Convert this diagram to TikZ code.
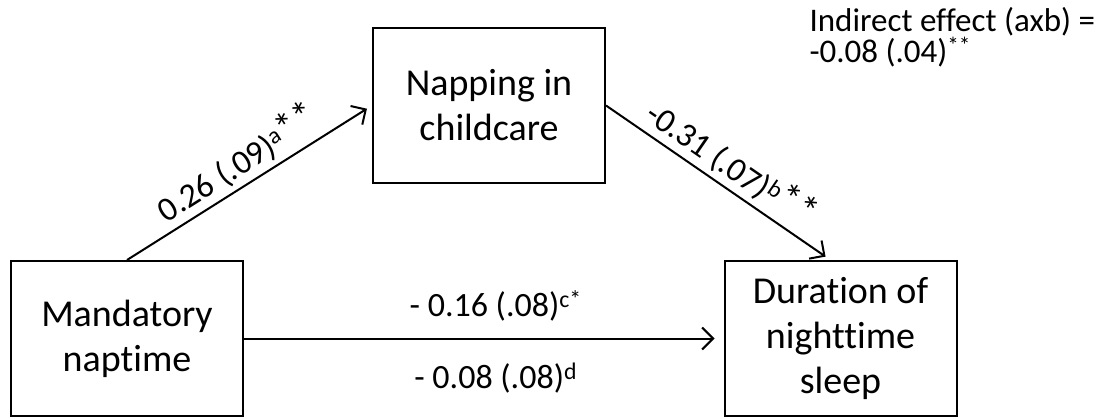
\documentclass[tikz,border=0pt]{standalone}
\usepackage{fontspec}
\setmainfont{Carlito}[Ligatures=NoCommon]
\usetikzlibrary{arrows.meta,positioning}

\newcommand{\sig}[1]{\raisebox{.12em}{\fontsize{40}{40}\selectfont#1}}

\begin{document}
\begin{tikzpicture}[
    x=1pt, y=-1pt,
    var/.style={draw, line width=2pt, align=center, minimum width=232pt, minimum height=155pt, font=\fontsize{38}{45}\selectfont},
    coef/.style={font=\fontsize{34}{40}\selectfont, midway, xshift=12pt},
    slopecoef/.style={font=\fontsize{34}{40}\selectfont, sloped, midway, above=1pt},
    path/.style={-{Straight Barb[length=11pt,width=22pt,line width=2pt]}, line width=2pt}
]
\useasboundingbox (0,0) rectangle (1107,418);
\node[var] (mandatory) at (127,338.5) {Mandatory\\naptime};
\node[var] (napping) at (489,105.5) {Napping in\\childcare};
\node[var] (duration) at (840.5,338.5) {Duration of\\nighttime\\sleep};
\node[anchor=north west, align=left, font=\fontsize{33}{30}\selectfont] (indirect) at (806,4) {Indirect effect (axb) =\\-0.08 (.04)\textsuperscript{**}};
\draw[path, shorten >=6pt] (mandatory.north) -- node[slopecoef] {0.26 (.09)\textsuperscript{a}\sig{**}} (napping.west);
\draw[path, shorten >=6pt] (napping.east) -- node[slopecoef] {-0.31 (.07)\textsuperscript{b}\sig{**}} ([xshift=-10pt]duration.north);
\draw[path, shorten >=9pt] (mandatory.east) -- node[coef, above=13pt] {- 0.16 (.08)\textsuperscript{c*}} node[coef, below=20pt] {- 0.08 (.08)\textsuperscript{d}} (duration.west);
\end{tikzpicture}
\end{document}
